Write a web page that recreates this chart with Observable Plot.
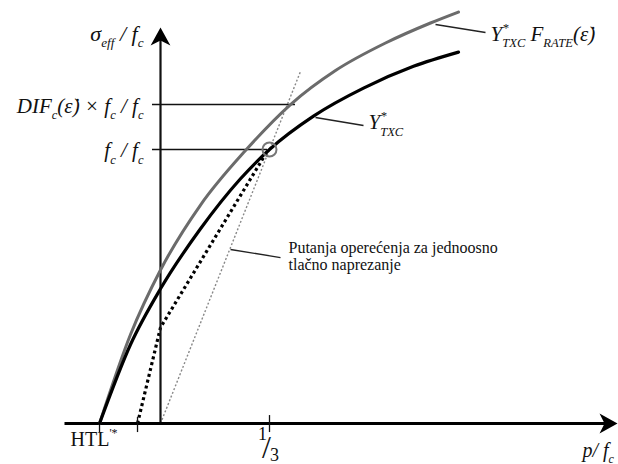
<!DOCTYPE html>
<html><head><meta charset="utf-8">
<script src="https://cdn.jsdelivr.net/npm/d3@7"></script>
<script src="https://cdn.jsdelivr.net/npm/@observablehq/plot@0.6"></script>
<style>body{margin:0;background:#fff} #chart svg{display:block}</style>
</head><body><div id="chart"></div>
<script>
// Normalized units: x = p / fc, y = sigma_eff / fc (schematic diagram)
const curveRate = [ // Y*TXC · F_RATE(ε̇)  (gray)
  {x:-0.1865,y:0},{x:-0.0917,y:0.3248},{x:0,y:0.5602},{x:0.1223,y:0.7974},
  {x:0.2599,y:0.9964},{x:0.3976,y:1.1642},{x:0.5352,y:1.2883},{x:0.6881,y:1.3887},
  {x:0.8257,y:1.4617},{x:0.9113,y:1.5018}
];
const curveTxc = [ // Y*TXC (black)
  {x:-0.1865,y:0},{x:-0.0917,y:0.2883},{x:0,y:0.4916},{x:0.1223,y:0.7106},
  {x:0.2446,y:0.8931},{x:0.3333,y:1.0},{x:0.4679,y:1.1219},{x:0.6208,y:1.2241},
  {x:0.7737,y:1.3036},{x:0.9113,y:1.3555}
];
const pathShifted = [{x:-0.0703,y:0},{x:0,y:0.3504},{x:0.3242,y:0.989}];   // thick dotted
const pathUniaxial = [{x:0,y:0},{x:0.4281,y:1.2847}];                       // thin dotted
const peakPoint = [{x:1/3,y:1}];
const xTicks = [{x:-0.1865,y1:0,y2:-0.033},{x:-0.0703,y1:0.022,y2:-0.033},{x:1/3,y1:0.029,y2:-0.033}];
const refLevels = [{y:1.1642,x1:-0.0245,x2:0.4128},{y:1.0,x1:-0.0245,x2:0.3272}];
const axisX = [{x1:-0.2936,y1:0,x2:1.37,y2:0}];
const axisY = [{x1:0,y1:0,x2:0,y2:1.41}];
const arrowTips = [{x:1.3976,y:0,dir:90},{x:0,y:1.4453,dir:0}];
const leaders = [
  {x1:0.841,y1:1.4562,x2:0.9939,y2:1.427},
  {x1:0.474,y1:1.1168,x2:0.6208,y2:1.0876},
  {x1:0.2141,y1:0.635,x2:0.367,y2:0.6058}
];
const yAxisTitle = [{x:-0.052,y:1.4234,t:"σ_{eff} / f_{c}"}];
const yLabels = [
  {x:-0.052,y:1.158,t:"DIF_{c}(ε̇) × f_{c} / f_{c}"},
  {x:-0.052,y:0.996,t:"f_{c} / f_{c}"}
];
const curveLabels = [
  {x:1.0092,y:1.42,t:"Y^{*}_{TXC} F_{RATE}(ε̇)"},
  {x:0.636,y:1.0985,t:"Y^{*}_{TXC}"}
];
const xAxisTitle = [{x:1.2905,y:-0.0985,t:"p/ f_{c}"}];
const htlLabel = [{x:-0.2752,y:-0.058,t:"HTL^{'*}"}];
const fracParts = [
  {x:0.3120,y:-0.040,t:"1",s:"d"},
  {x:0.3242,y:-0.090,t:"/",s:"s"},
  {x:0.3486,y:-0.116,t:"3",s:"d"}
];
const pathNote = [{x:0.3914,y:0.6113,t:"Putanja operećenja za jednoosno\ntlačno naprezanje"}];

const notchedArrow = {
  draw(ctx, l) {
    const w = l * 0.55;
    ctx.moveTo(0, -l); ctx.lineTo(w, 0); ctx.lineTo(0, -0.28 * l); ctx.lineTo(-w, 0); ctx.closePath();
  }
};
const serif = "Liberation Serif, Times New Roman, serif";
const it = {x:"x", y:"y", text:"t", fontFamily:serif, fontStyle:"italic", fill:"#111"};

const chart = Plot.plot({
  width: 618, height: 464, margin: 0,
  x: {domain: [-0.4893, 1.4006], axis: null},
  y: {domain: [-0.1496, 1.5438], axis: null},
  marks: [
    Plot.line(pathUniaxial, {x:"x", y:"y", stroke:"#888", strokeWidth:1.4, strokeDasharray:"2,2", strokeLinecap:"butt"}),
    Plot.line(pathShifted, {x:"x", y:"y", stroke:"#000", strokeWidth:3.2, strokeDasharray:"3,3", strokeLinecap:"butt"}),
    Plot.ruleY(refLevels, {y:"y", x1:"x1", x2:"x2", stroke:"#111", strokeWidth:1.3}),
    Plot.link(axisY, {x1:"x1", y1:"y1", x2:"x2", y2:"y2", stroke:"#111", strokeWidth:2.2}),
    Plot.link(axisX, {x1:"x1", y1:"y1", x2:"x2", y2:"y2", stroke:"#000", strokeWidth:3}),
    Plot.ruleX(xTicks, {x:"x", y1:"y1", y2:"y2", stroke:"#111", strokeWidth:1.3}),
    Plot.vector(arrowTips, {x:"x", y:"y", rotate:"dir", length:18, anchor:"end", shape:notchedArrow, fill:"#000", stroke:"none"}),
    Plot.line(curveRate, {x:"x", y:"y", curve:"monotone-x", stroke:"#6b6b6b", strokeWidth:3}),
    Plot.line(curveTxc, {x:"x", y:"y", curve:"monotone-x", stroke:"#000", strokeWidth:3.2}),
    Plot.dot(peakPoint, {x:"x", y:"y", r:7, stroke:"#777", strokeWidth:2, fill:"none"}),
    Plot.link(leaders, {x1:"x1", y1:"y1", x2:"x2", y2:"y2", stroke:"#222", strokeWidth:1.3}),
    Plot.text(yAxisTitle, {...it, textAnchor:"end", fontSize:22}),
    Plot.text(yLabels, {...it, textAnchor:"end", fontSize:21}),
    Plot.text(curveLabels, {...it, textAnchor:"start", fontSize:21}),
    Plot.text(xAxisTitle, {...it, textAnchor:"start", fontSize:20}),
    Plot.text(htlLabel, {x:"x", y:"y", text:"t", textAnchor:"start", fontSize:20, fontFamily:serif, fill:"#111"}),
    Plot.text(fracParts.filter(d => d.s === "d"), {x:"x", y:"y", text:"t", fontSize:18, fontFamily:serif, fill:"#111"}),
    Plot.text(fracParts.filter(d => d.s === "s"), {x:"x", y:"y", text:"t", fontSize:32, fontFamily:serif, fill:"#111"}),
    Plot.text(pathNote, {x:"x", y:"y", text:"t", textAnchor:"start", fontSize:16, lineHeight:1.06, fontFamily:serif, fill:"#111"})
  ]
});

// turn _{..} / ^{..} markup into sub/superscript tspans
const NS = "http://www.w3.org/2000/svg";
d3.select(chart).selectAll("text").each(function() {
  const raw = this.textContent;
  if (!/[_^]\{/.test(raw)) return;
  const F = parseFloat(this.closest("g").getAttribute("font-size")) || 20;
  const segs = []; let buf = "", i = 0;
  while (i < raw.length) {
    const c = raw[i];
    if ((c === "_" || c === "^") && raw[i + 1] === "{") {
      if (buf) segs.push({t: buf, k: "n"}); buf = "";
      const j = raw.indexOf("}", i);
      segs.push({t: raw.slice(i + 2, j), k: c === "_" ? "sub" : "sup"});
      i = j + 1;
    } else { buf += c; i++; }
  }
  if (buf) segs.push({t: buf, k: "n"});
  this.textContent = "";
  let shift = 0;
  segs.forEach((s, idx) => {
    const ts = document.createElementNS(NS, "tspan");
    const target = s.k === "sub" ? 0.3 * F : s.k === "sup" ? -0.42 * F : 0;
    if (target !== shift) ts.setAttribute("dy", target - shift);
    shift = target;
    if (s.k !== "n") ts.setAttribute("font-size", 0.6 * F);
    if (s.k === "sub" && idx > 0 && segs[idx - 1].k === "sup") ts.setAttribute("dx", -0.3 * F * segs[idx - 1].t.length);
    ts.textContent = s.t;
    this.appendChild(ts);
  });
});

document.getElementById("chart").appendChild(chart);
</script></body></html>
